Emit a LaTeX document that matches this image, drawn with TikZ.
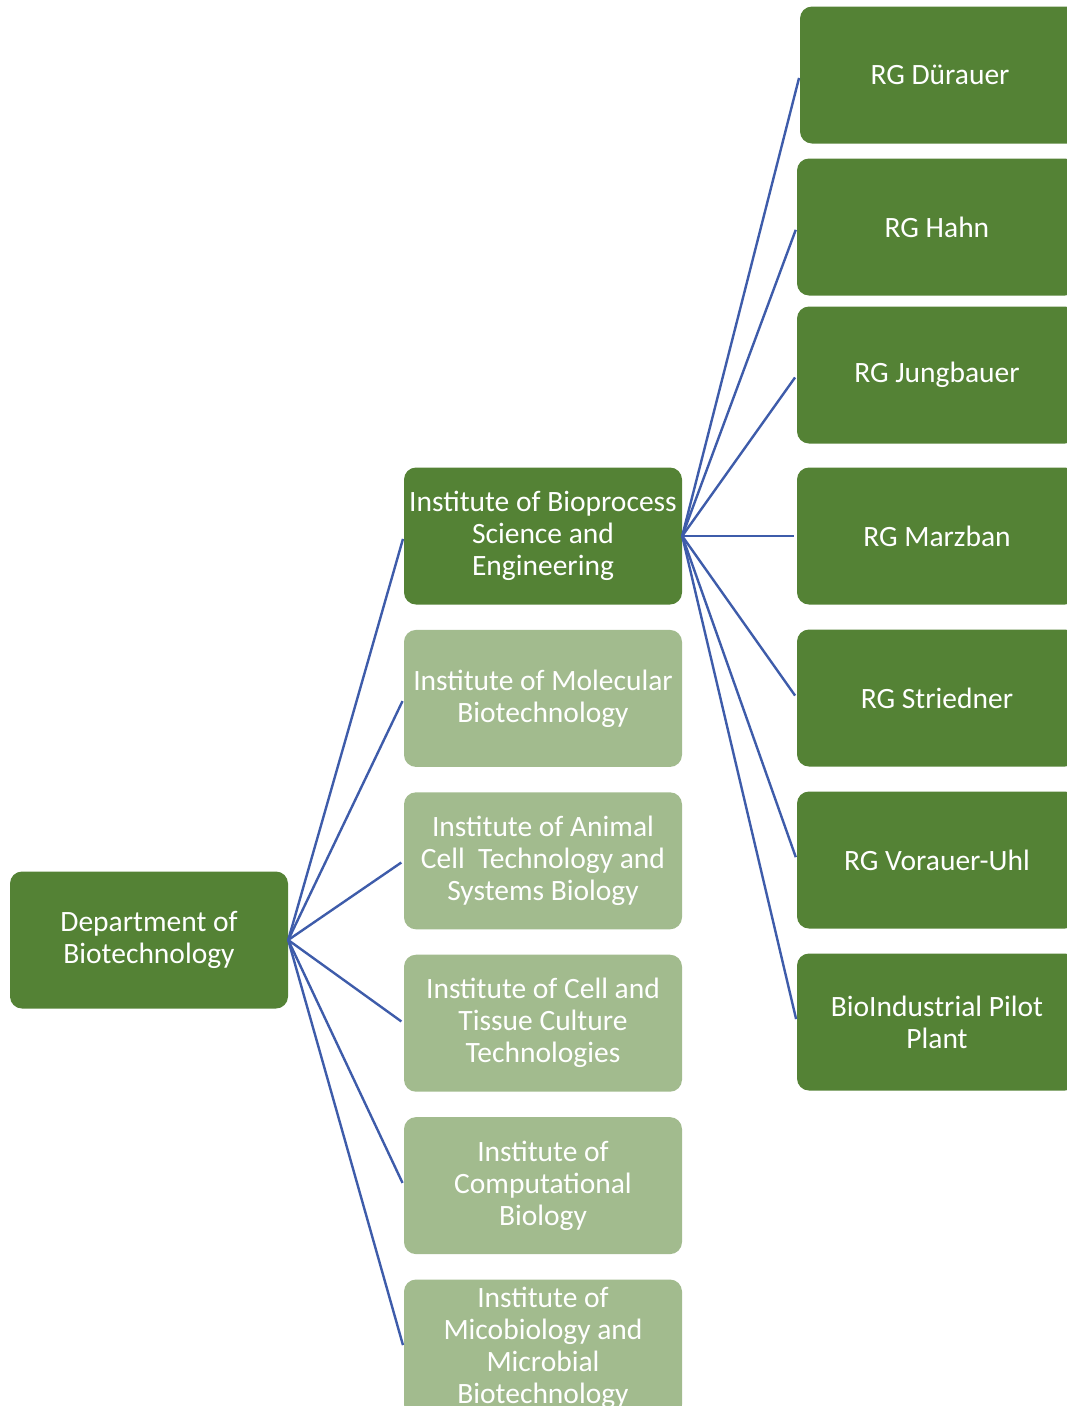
\documentclass[tikz,border=0pt]{standalone}
\usepackage{fontspec}
\setmainfont{Carlito}
\usepackage{xcolor}
\usepackage{tikz}
\usetikzlibrary{positioning}

\definecolor{darkgreen}{RGB}{84,130,53}
\definecolor{lightgreen}{RGB}{162,187,142}
\definecolor{linkblue}{RGB}{62,92,170}

\begin{document}
\begin{tikzpicture}[
  x=1pt, y=-1pt,
  unitbox/.style={rectangle, rounded corners=12pt, fill=darkgreen, text=white, minimum width=278pt, minimum height=137pt, inner sep=2pt, align=center, font=\fontsize{29.5}{32}\selectfont},
  instbox/.style={unitbox, fill=lightgreen},
  rgbox/.style={unitbox, minimum width=280pt},
  link/.style={draw=linkblue, line width=2.4pt},
  node distance=25pt
]
  \path[use as bounding box, clip] (0,0) rectangle (1067,1406);

  \node[unitbox] (dept) at (149,940) {Department of\\Biotechnology};

  \node[unitbox] (bio) at (543,536) {Institute of Bioprocess\\Science and\\Engineering};
  \node[instbox, below=of bio]  (mol)  {Institute of Molecular\\Biotechnology};
  \node[instbox, below=of mol]  (anim) {Institute of Animal\\Cell\ \ Technology and\\Systems Biology};
  \node[instbox, below=of anim] (cell) {Institute of Cell and\\Tissue Culture\\Technologies};
  \node[instbox, below=of cell] (comp) {Institute of\\Computational\\Biology};
  \node[instbox, below=of comp] (micro) {Institute of\\Micobiology and\\Microbial\\Biotechnology};

  \node[rgbox] (duer)  at (940,75)   {RG Dürauer};
  \node[rgbox] (hahn)  at (937,227)  {RG Hahn};
  \node[rgbox] (jung)  at (937,375)  {RG Jungbauer};
  \node[rgbox] (marz)  at (937,536)  {RG Marzban};
  \node[rgbox] (strie) at (937,698)  {RG Striedner};
  \node[rgbox] (vora)  at (937,860)  {RG Vorauer-Uhl};
  \node[rgbox] (pilot) at (937,1022) {BioIndustrial Pilot\\Plant};

  \foreach \inst in {bio,mol,anim,cell,comp,micro}
    \draw[link, shorten >=3pt] (dept.east) -- (\inst.west);
  \foreach \rg in {duer,hahn,jung,marz,strie,vora,pilot}
    \draw[link, shorten >=3pt] (bio.east) -- (\rg.west);
\end{tikzpicture}
\end{document}
